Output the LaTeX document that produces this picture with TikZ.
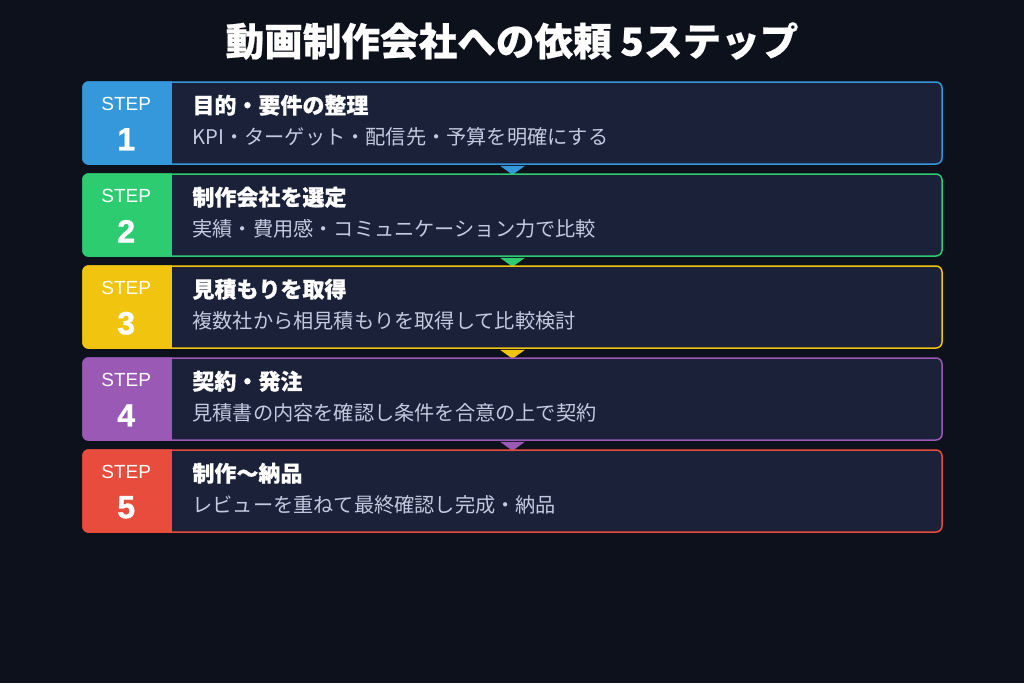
\documentclass[tikz,border=0pt]{standalone}
\usepackage{fontspec}
\setmainfont{Noto Sans CJK JP}[BoldFeatures={FakeBold=0.6}]
\newfontfamily\stepfont{Liberation Sans}
\newfontfamily\numfont{Liberation Sans Bold}[FakeBold=1.2]
\usetikzlibrary{calc}

\definecolor{bgdark}{HTML}{0D111C}
\definecolor{cardfill}{HTML}{1A2139}
\definecolor{subtext}{HTML}{C2CADF}
\definecolor{stepblue}{HTML}{3498DB}
\definecolor{stepgreen}{HTML}{2ECC71}
\definecolor{stepyellow}{HTML}{F1C40F}
\definecolor{steppurple}{HTML}{9B59B6}
\definecolor{stepred}{HTML}{E74C3C}

\tikzset{
  card/.style={draw=#1, fill=cardfill, line width=1.5pt, rounded corners=6pt,
    minimum width=859pt, minimum height=82pt, inner sep=0pt},
  steplbl/.style={text=white, inner sep=0pt, font=\stepfont\fontsize{19}{20}\selectfont},
  stepnum/.style={text=white, inner sep=0pt, font=\numfont\fontsize{32}{34}\selectfont},
  headtxt/.style={text=white, inner sep=0pt, anchor=west, font=\bfseries\fontsize{22}{24}\selectfont},
  subtxt/.style={text=subtext, inner sep=0pt, anchor=west, font=\fontsize{20.2}{24}\selectfont}
}

\begin{document}
\begin{tikzpicture}[x=1pt,y=-1pt]
\useasboundingbox (0,0) rectangle (1024,683);
\fill[bgdark] (0,0) rectangle (1024,683);
\node[text=white, font=\bfseries\fontsize{38.6}{42}\selectfont] (title) at (512,41) {動画制作会社への依頼 5ステップ};
% five steps
\foreach \col/\head/\sub [count=\n] in {
  stepblue/{目的・要件の整理}/{KPI・ターゲット・配信先・予算を明確にする},
  stepgreen/{制作会社を選定}/{実績・費用感・コミュニケーション力で比較},
  stepyellow/{見積もりを取得}/{複数社から相見積もりを取得して比較検討},
  steppurple/{契約・発注}/{見積書の内容を確認し条件を合意の上で契約},
  stepred/{制作〜納品}/{レビューを重ねて最終確認し完成・納品}}
{
\node[card=\col] (card\n) at (512.5,{123+92*(\n-1)}) {};
\begin{scope}
\clip[rounded corners=6pt] (card\n.north west) rectangle (card\n.south east);
\fill[\col] (card\n.north west) rectangle ($(card\n.south west)+(90,0)$);
\end{scope}
\node[steplbl] (lbl\n) at ($(card\n.north west)+(44,23)$) {STEP};
\node[stepnum] (num\n) at ($(card\n.north west)+(44,58)$) {\n};
\node[headtxt] (head\n) at ($(card\n.north west)+(110,24)$) {\head};
\node[subtxt] (sub\n) at ($(card\n.north west)+(110,56)$) {\sub};
\ifnum\n<5
\fill[\col] ($(card\n.south)+(-12.5,1)$) -- ++(25,0) -- ($(card\n.south)+(0,10)$) -- cycle;
\fi
}
\end{tikzpicture}
\end{document}
